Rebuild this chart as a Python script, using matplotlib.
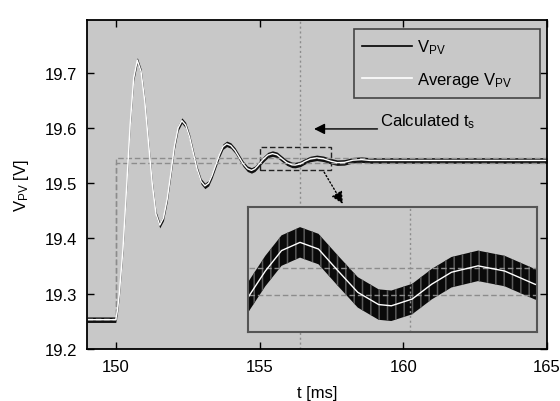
# -*- coding: utf-8 -*-
"""
PV voltage step response with its average and the calculated settling time
"""
import matplotlib
matplotlib.use("Agg")
import matplotlib.pyplot as plt
from matplotlib.lines import Line2D
from matplotlib.patches import Rectangle

plt.rcParams['font.family'] = ['Liberation Sans', 'DejaVu Sans']
plt.rcParams['font.size'] = 12
plt.rcParams['mathtext.default'] = 'regular'
plt.rcParams['hatch.linewidth'] = 1.1

# average V_PV (t in ms, V in volts)
avg_t = [149.0, 150.0, 150.06, 150.125, 150.25, 150.375, 150.5, 150.625, 150.75,
         150.88, 151.01, 151.14, 151.27, 151.40, 151.53,
         151.66, 151.79, 151.92, 152.04, 152.17, 152.30,
         152.43, 152.57, 152.70, 152.83, 152.97, 153.10,
         153.23, 153.35, 153.48, 153.61, 153.73, 153.86,
         154.00, 154.15, 154.29, 154.43, 154.58, 154.72,
         154.84, 154.93, 155.02, 155.15, 155.29, 155.45, 155.61, 155.78,
         155.95, 156.13, 156.24, 156.42, 156.59, 156.76, 156.99, 157.22,
         157.48, 157.70, 157.95, 158.25, 158.55, 158.85, 165.0]
avg_v = [19.253, 19.253, 19.270, 19.300, 19.380, 19.490, 19.605, 19.690, 19.722,
         19.702, 19.648, 19.573, 19.499, 19.444, 19.424,
         19.437, 19.471, 19.519, 19.566, 19.600, 19.613,
         19.605, 19.583, 19.554, 19.525, 19.503, 19.495,
         19.500, 19.514, 19.533, 19.552, 19.566, 19.571,
         19.568, 19.559, 19.547, 19.535, 19.526, 19.523,
         19.526, 19.531, 19.5365, 19.544, 19.5507, 19.5534, 19.5512, 19.544,
         19.537, 19.533, 19.5326, 19.5348, 19.5397, 19.5436, 19.5457, 19.544,
         19.5397, 19.537, 19.5375, 19.5415, 19.5425, 19.541, 19.541]

# switching ripple of the measured V_PV around the average (V, half width)
ripple = 0.005

# settling band (step at the load change)
band_t = [149.0, 150.0, 165.0]
band_hi = [19.255, 19.545, 19.545]
band_lo = [19.255, 19.536, 19.536]

t_s = 156.4   # calculated settling time
zoom_t = (155.0, 157.5)
zoom_v = (19.524, 19.565)

bg = '#c8c8c8'
vpv_lo = [v - ripple for v in avg_v]
vpv_hi = [v + ripple for v in avg_v]

fig = plt.figure(figsize=(5.6, 4.02), dpi=100)
ax = fig.add_axes([87/560, 52/402, 460/560, 329/402])
ax.set_facecolor(bg)

ax.plot(band_t, band_hi, color='#8c8c8c', lw=1, ls=(0, (4, 2)), drawstyle='steps-post')
ax.plot(band_t, band_lo, color='#8c8c8c', lw=1, ls=(0, (4, 2)), drawstyle='steps-post')
ax.axvline(t_s, color='#8c8c8c', lw=1, ls=(0, (1.5, 2)))
ax.fill_between(avg_t, vpv_lo, vpv_hi, color='#111111', lw=0)
ax.plot(avg_t, avg_v, color='white', lw=1)

ax.add_patch(Rectangle((zoom_t[0], zoom_v[0]), zoom_t[1] - zoom_t[0],
                       zoom_v[1] - zoom_v[0], fill=False, ec='#222222',
                       lw=1, ls=(0, (4, 2))))

ax.set_xlim(149, 165)
ax.set_ylim(19.2, 19.795)
ax.set_xticks([150, 155, 160, 165])
ax.set_yticks([19.2, 19.3, 19.4, 19.5, 19.6, 19.7])
ax.tick_params(direction='in', top=True, right=True, length=5, width=1, pad=7)
for s in ax.spines.values():
    s.set_linewidth(1.3)
ax.set_xlabel('t [ms]', labelpad=8)
ax.set_ylabel('V$_{PV}$ [V]', labelpad=10)

handles = [Line2D([], [], color='black', lw=1.2),
           Line2D([], [], color='white', lw=1.2)]
leg = ax.legend(handles, ['V$_{PV}$', 'Average V$_{PV}$'], loc='upper left',
                bbox_to_anchor=(0.5804, 0.76, 0.4043, 0.2126), mode='expand',
                borderaxespad=0, fancybox=False,
                framealpha=1, facecolor=bg, edgecolor='#444444',
                handlelength=3.0, handletextpad=0.3, labelspacing=0.85,
                borderpad=0.5)
leg.get_frame().set_linewidth(1.2)

ax.annotate('', xy=(156.8, 19.598), xytext=(159.2, 19.598),
            arrowprops=dict(arrowstyle='-|>', color='black', lw=1,
                            mutation_scale=16))
ax.text(159.2, 19.605, 'Calculated t$_s$', va='baseline', ha='left')

# dotted arrow from the zoom box to the inset
ax.annotate('', xy=(157.95, 19.458), xytext=(157.2, 19.524),
            arrowprops=dict(arrowstyle='-|>', color='black', lw=1,
                            ls=':', mutation_scale=18))

# inset
ins = fig.add_axes([248/560, 69/402, 289/560, 125/402])
ins.set_facecolor(bg)
ins.plot(band_t, band_hi, color='#8c8c8c', lw=1, ls=(0, (4, 2)), drawstyle='steps-post')
ins.plot(band_t, band_lo, color='#8c8c8c', lw=1, ls=(0, (4, 2)), drawstyle='steps-post')
ins.axvline(t_s, color='#8c8c8c', lw=1, ls=(0, (1.5, 2)))
ins.fill_between(avg_t, vpv_lo, vpv_hi, facecolor='#0a0a0a', edgecolor='#5a5a5a',
                 hatch='||', lw=0)
ins.plot(avg_t, avg_v, color='white', lw=1)
ins.set_xlim(*zoom_t)
ins.set_ylim(*zoom_v)
ins.set_xticks([])
ins.set_yticks([])
for s in ins.spines.values():
    s.set_color('#555555')
    s.set_linewidth(1.5)

fig.savefig('out.png', dpi=100)
